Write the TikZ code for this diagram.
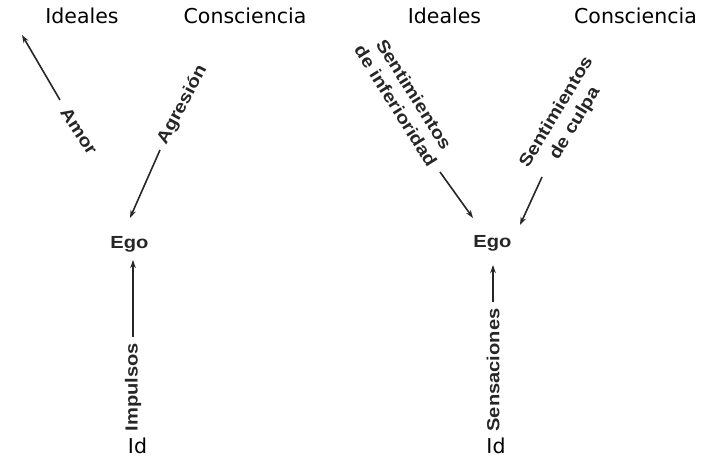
\documentclass[tikz,border=0pt]{standalone}
\usepackage{fontspec}
\setmainfont{DejaVu Sans}
\newfontfamily\lab{Liberation Sans}[FakeStretch=1.15]
\usetikzlibrary{arrows.meta}
\begin{document}
\begin{tikzpicture}[x=1pt,y=-1pt,
  top/.style={font=\fontsize{20.5}{24}\selectfont, inner sep=0pt, anchor=base},
  lbl/.style={font=\lab\bfseries\fontsize{17.5}{21.5}\selectfont, text=black!85, inner sep=2pt, align=center},
  arr/.style={draw=black!85, line width=1.6pt, -{Stealth[length=8pt,width=5.5pt]}}]
\useasboundingbox (0,0) rectangle (713,457);
% top and bottom labels
\node[top] (ideL) at (82,24) {Ideales};
\node[top] (conL) at (245,24) {Consciencia};
\node[top] (ideR) at (444.5,24) {Ideales};
\node[top] (conR) at (635.5,24) {Consciencia};
\node[top] (idL) at (137.5,453) {Id};
\node[top] (idR) at (496,453) {Id};
% left diagram
\node[lbl] (egoL) at (129.5,244) {Ego};
\node[lbl, rotate=-57] (amor) at (79,131) {Amor};
\node[lbl, rotate=62] (agr) at (182.5,105) {Agresión};
\node[lbl, rotate=90] (imp) at (133,387) {Impulsos};
\coordinate (amorend) at (22,35);
\draw[arr] ([shift={(-19,-31)}]amor.center) -- (amorend);
\draw[arr] ([shift={(-22.5,45)}]agr.center) -- ([shift={(0.5,-26)}]egoL.center);
\draw[arr] ([shift={(0,-50)}]imp.center) -- ([shift={(3.5,16)}]egoL.center);
% right diagram
\node[lbl] (egoR) at (492.5,243) {Ego};
\node[lbl, rotate=-58] (inf) at (405,100) {Sentimientos\\de inferioridad};
\node[lbl, rotate=59] (culpa) at (566,118) {Sentimientos\\de culpa};
\node[lbl, rotate=90] (sens) at (493,370) {Sensaciones};
\draw[arr] ([shift={(35,72)}]inf.center) -- ([shift={(-19.5,-25)}]egoR.center);
\draw[arr] ([shift={(-24,59)}]culpa.center) -- ([shift={(27.5,-18)}]egoR.center);
\draw[arr] ([shift={(0,-68)}]sens.center) -- ([shift={(0.5,22)}]egoR.center);
\end{tikzpicture}
\end{document}
